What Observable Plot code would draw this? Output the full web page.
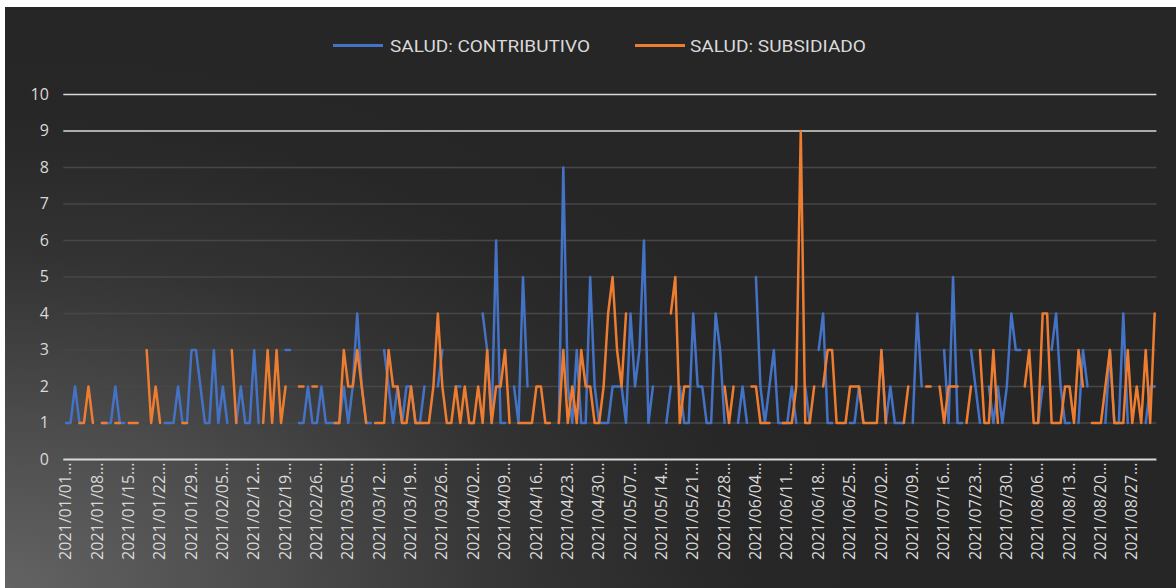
<!DOCTYPE html>
<html>
<head>
<meta charset="utf-8">
<script src="https://cdn.jsdelivr.net/npm/d3@7"></script>
<script src="https://cdn.jsdelivr.net/npm/@observablehq/plot@0.6"></script>
<style>
  html, body { margin: 0; padding: 0; background: #ffffff; }
  #wrap { position: relative; width: 1176px; height: 588px; overflow: hidden; }
  #bg { position: absolute; left: 5px; top: 7px; right: 0; bottom: 0;
        background: radial-gradient(ellipse 75% 95% at 0% 100%, #636363 0%, #4c4c4c 30%, #333333 60%, #272727 85%, #262626 100%); }
  #chart { position: absolute; left: 0; top: 0; }
  #legend { position: absolute; left: 0; top: 0; }
</style>
</head>
<body>
<div id="wrap">
  <div id="bg"></div>
  <div id="chart"></div>
  <svg id="legend" width="1176" height="70"></svg>
</div>
<script>
// ---- data ----
const seriesNames = ["SALUD: CONTRIBUTIVO", "SALUD: SUBSIDIADO"];
const seriesColors = ["#4472C4", "#ED7D31"];
const startDay = "2021-01-01";
const endDay = "2021-09-01";
const yTicks = [0, 1, 2, 3, 4, 5, 6, 7, 8, 9, 10];

const contributivo = [
1,1,2,1,null,null,null,null,1,1, 1,2,1,1,null,null,null,null,null,null,
null,null,1,1,1,2,1,1,3,3, 2,1,1,3,1,2,1,null,1,2,
1,1,3,1,null,null,null,null,null,3, 3,null,1,1,2,1,1,2,1,1,
1,1,2,1,2,4,2,1,1,null, null,3,2,1,2,1,2,2,1,1,
2,null,null,2,3,null,null,2,2,null, 1,1,null,4,3,1,6,1,1,null,
2,1,5,2,null,null,null,null,null,null, 1,8,2,1,3,1,1,5,2,1,
1,1,2,2,2,1,4,2,3,6, 1,2,null,null,1,2,null,2,1,1,
4,2,2,1,1,4,3,1,null,null, 1,2,1,null,5,2,1,2,3,1,
1,1,2,1,null,2,1,null,3,4, 1,1,null,null,null,1,1,2,1,null,
null,null,3,1,2,1,1,1,null,1, 4,2,null,null,null,null,3,1,5,1,
1,null,3,2,1,null,2,1,2,1, 2,4,3,3,null,null,null,1,2,null,
3,4,2,1,1,null,1,3,2,null, null,null,1,3,1,1,4,1,null,null,
null,1,2,2
];

const subsidiado = [
null,null,null,1,1,2,1,null,1,1, null,1,1,null,1,1,1,null,3,1,
2,1,null,null,null,null,1,1,null,null, null,null,null,null,null,null,null,3,1,null,
null,null,null,null,1,3,1,3,1,2, null,null,2,2,null,2,2,null,null,null,
1,1,3,2,2,3,2,1,null,1, 1,1,3,2,2,1,1,2,1,1,
1,1,2,4,2,1,1,2,1,2, 1,1,2,1,3,1,2,2,3,1,
null,1,1,1,1,2,2,1,1,null, 1,3,1,2,1,3,2,2,1,1,
2,4,5,3,2,4,null,null,null,null, null,null,null,null,null,4,5,1,2,2,
null,null,null,null,null,null,null,2,1,2, null,null,null,2,2,1,1,1,null,null,
1,1,1,2,9,1,1,2,null,2, 3,3,1,1,1,2,2,2,1,1,
1,1,3,1,null,null,null,1,2,null, null,null,2,2,null,2,1,2,2,2,
null,1,2,null,3,1,1,3,1,null, null,null,null,null,2,3,1,1,4,4,
1,1,1,2,2,1,3,2,null,1, 1,1,2,3,1,1,1,3,1,2,
1,3,1,4
];

// ---- build ----
const fmt = d3.utcFormat("%Y/%m/%d");
const days = d3.utcDay.range(new Date(startDay + "T00:00:00Z"), d3.utcDay.offset(new Date(endDay + "T00:00:00Z"), 1)).map(fmt);
const tickDays = days.filter((d, i) => i % 7 === 0);

const rows = [];
[contributivo, subsidiado].forEach((vals, s) => {
  days.forEach((d, i) => rows.push({date: d, series: seriesNames[s], value: vals[i] == null ? NaN : vals[i]}));
});

const chart = Plot.plot({
  width: 1176,
  height: 588,
  marginLeft: 63.3,
  marginRight: 19.6,
  marginTop: 94,
  marginBottom: 129,
  style: {background: "transparent", color: "#d9d9d9", fontFamily: "'Open Sans', 'DejaVu Sans', sans-serif", fontSize: "16px"},
  x: {type: "point", domain: days, padding: 0.5, ticks: tickDays, tickRotate: -90, tickSize: 0, tickPadding: 3,
      tickFormat: d => d + "…", label: null},
  y: {domain: [0, 10], ticks: yTicks, tickSize: 0, tickPadding: 15, label: null},
  color: {domain: seriesNames, range: seriesColors},
  marks: [
    Plot.ruleY(yTicks.filter(v => v > 0 && v < 9), {stroke: "#474747", strokeWidth: 1.5}),
    Plot.ruleY(yTicks.filter(v => v >= 9), {stroke: "#d9d9d9", strokeWidth: 1.5}),
    Plot.line(rows, {x: "date", y: "value", z: "series", stroke: "series", strokeWidth: 2.5, curve: "linear"}),
    Plot.ruleY([0], {stroke: "#d9d9d9", strokeWidth: 2.2})
  ]
});
document.getElementById("chart").appendChild(chart);

// ---- legend (drawn above the plot) ----
const leg = d3.select("#legend");
const legPos = [{sw: 333, tx: 390, len: 200}, {sw: 635, tx: 690, len: 176}];
seriesNames.forEach((name, i) => {
  leg.append("line")
    .attr("x1", legPos[i].sw).attr("x2", legPos[i].sw + 50)
    .attr("y1", 45.5).attr("y2", 45.5)
    .attr("stroke", seriesColors[i]).attr("stroke-width", 3);
  leg.append("text")
    .attr("x", legPos[i].tx).attr("y", 51.5)
    .attr("fill", "#d9d9d9")
    .attr("font-family", "Roboto, 'Noto Sans', sans-serif")
    .attr("font-size", 17)
    .attr("textLength", legPos[i].len)
    .attr("lengthAdjust", "spacingAndGlyphs")
    .text(name);
});
</script>
</body>
</html>
